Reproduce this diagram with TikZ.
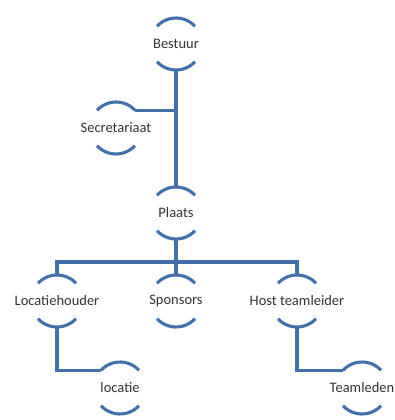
\documentclass[tikz,border=0pt]{standalone}
\usepackage{fontspec}
\setmainfont{Carlito}
\definecolor{smartblue}{RGB}{66,112,170}

\begin{document}
\begin{tikzpicture}[x=1pt,y=1pt]

\useasboundingbox (0,0) rectangle (395,420);

\tikzset{
  member/.style={inner sep=0pt, font=\fontsize{14.5}{16}\selectfont, text=black!80},
  blueline/.style={draw=smartblue, line width=3.1pt}
}

% Nodes of the hierarchy
\node[member] (bestuur) at (176,376) {Bestuur};
\node[member] (secr)    at (116,292) {Secretariaat};
\node[member] (plaats)  at (176,207) {Plaats};
\node[member] (lochoud) at (57,119)  {Locatiehouder};
\node[member] (spons)   at (176,119) {Sponsors};
\node[member] (host)    at (297,119) {Host teamleider};
\node[member] (locatie) at (120,32)  {locatie};
\node[member] (team)    at (362,32)  {Teamleden};

% Arcs above and below every label
\foreach \n in {bestuur,secr,plaats,lochoud,spons,host,locatie,team} {
  \draw[blueline] ([shift={(43:26)}]\n.center) arc (43:137:26);
  \draw[blueline] ([shift={(223:26)}]\n.center) arc (223:317:26);
}

% Connectors
\coordinate (secrend) at ([shift={(43:26)}]secr.center);
\draw[blueline] ([yshift=-26]bestuur.center) -- ([yshift=26]plaats.center);
\draw[blueline] (secrend) -- (secrend -| bestuur.center);
\draw[blueline] ([yshift=-26]plaats.center) -- ([yshift=26]spons.center);
\coordinate (bus) at (176,158);
\draw[blueline] ([yshift=26]lochoud.center) |- (bus) -| ([yshift=26]host.center);
\draw[blueline] ([yshift=-26]lochoud.center) |- ([shift={(137:26)}]locatie.center);
\draw[blueline] ([yshift=-26]host.center) |- ([shift={(137:26)}]team.center);

\end{tikzpicture}
\end{document}
